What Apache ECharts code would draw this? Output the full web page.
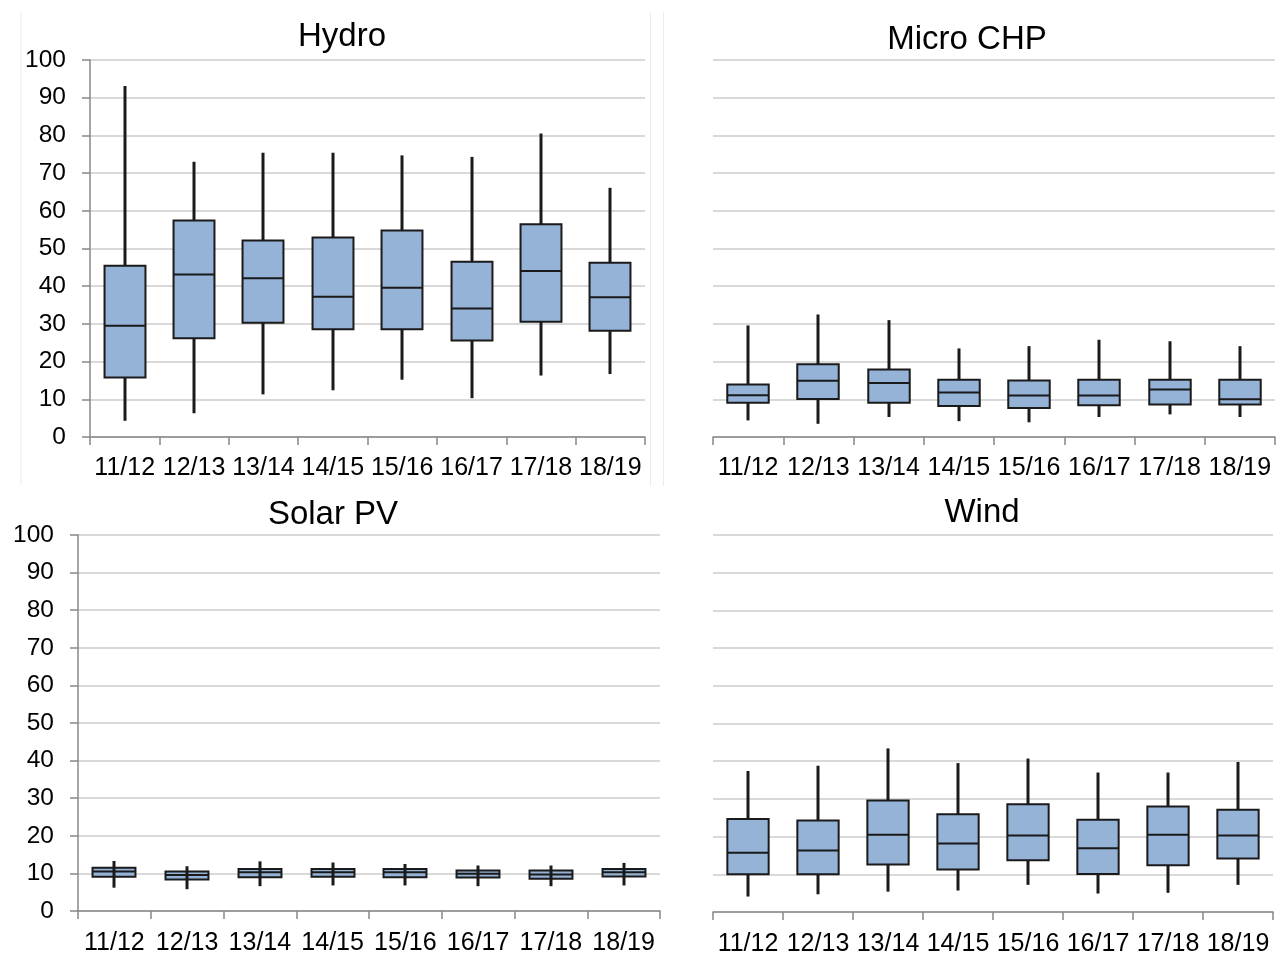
<!DOCTYPE html>
<html>
<head>
<meta charset="utf-8">
<script src="https://cdn.jsdelivr.net/npm/echarts@6/dist/echarts.min.js"></script>
<style>html,body{margin:0;padding:0;background:#fff}#c{width:1284px;height:958px}</style>
</head>
<body>
<div id="c"></div>
<script>
// categories and tick labels
const categories = ['11/12','12/13','13/14','14/15','15/16','16/17','17/18','18/19'];
const yTicks = [0,10,20,30,40,50,60,70,80,90,100];
const panelTitles = ['Hydro','Micro CHP','Solar PV','Wind'];

// each row: [min, Q1, median, Q3, max]
const hydro = [
  [4.3,15.8,29.5,45.4,93.1],
  [6.3,26.2,43.1,57.4,73.0],
  [11.3,30.3,42.1,52.1,75.4],
  [12.4,28.6,37.2,52.9,75.4],
  [15.2,28.6,39.6,54.8,74.7],
  [10.3,25.6,34.1,46.5,74.3],
  [16.3,30.6,44.0,56.4,80.5],
  [16.7,28.2,37.1,46.2,66.1]
];
const microChp = [
  [4.4,9.1,11.1,13.9,29.6],
  [3.5,10.1,14.9,19.3,32.5],
  [5.3,9.1,14.3,17.9,31.0],
  [4.2,8.2,11.8,15.2,23.5],
  [3.9,7.7,11.0,15.0,24.1],
  [5.3,8.4,11.0,15.2,25.8],
  [6.0,8.6,12.6,15.2,25.4],
  [5.3,8.6,10.0,15.2,24.1]
];
const solarPv = [
  [6.2,9.1,10.5,11.5,13.3],
  [5.8,8.4,9.6,10.5,11.9],
  [6.6,9.0,10.3,11.2,13.2],
  [6.8,9.1,10.3,11.2,12.9],
  [6.8,9.0,10.3,11.2,12.5],
  [6.6,8.9,9.9,10.8,12.1],
  [6.6,8.6,9.7,10.8,12.1],
  [6.8,9.2,10.3,11.2,12.8]
];
const wind = [
  [4.1,10.0,15.7,24.7,37.4],
  [4.7,10.0,16.3,24.3,38.8],
  [5.4,12.6,20.5,29.6,43.4],
  [5.7,11.3,18.2,25.9,39.5],
  [7.2,13.7,20.3,28.6,40.7],
  [4.9,10.1,16.9,24.5,37.0],
  [5.1,12.4,20.5,28.0,37.0],
  [7.2,14.2,20.3,27.1,39.8]
];

const panelData = [hydro, microChp, solarPv, wind];

const FONT = 'Liberation Sans, Arial, sans-serif';
const grids = [
  {left:90, top:60, width:555, height:377},
  {left:713, top:60, width:562, height:377},
  {left:78, top:535, width:582, height:376},
  {left:713, top:535, width:560, height:377}
];
const showY = [true,false,true,false];
const titlePos = [[342,20],[967,23],[333,498],[982,496]];
const whiskerOnTop = [false,false,true,false];

function makeRender(onTop){
  return function(params, api){
    const i = api.value(0);
    const pMin = api.coord([i, api.value(1)]);
    const pQ1 = api.coord([i, api.value(2)]);
    const pMed = api.coord([i, api.value(3)]);
    const pQ3 = api.coord([i, api.value(4)]);
    const pMax = api.coord([i, api.value(5)]);
    const w = api.size([1,0])[0]*0.59;
    const cx = Math.round(pMed[0]);
    const lineStyle = {stroke:'#1a1a1a', lineWidth:3};
    const whiskers = onTop ? [
      {type:'line', shape:{x1:cx,y1:pMin[1],x2:cx,y2:pMax[1]}, style:lineStyle, z2:3}
    ] : [
      {type:'line', shape:{x1:cx,y1:pMin[1],x2:cx,y2:pQ1[1]}, style:lineStyle},
      {type:'line', shape:{x1:cx,y1:pQ3[1],x2:cx,y2:pMax[1]}, style:lineStyle}
    ];
    return {type:'group', children: [
      ...whiskers,
      {type:'rect', shape:{x:cx-w/2, y:pQ3[1], width:w, height:pQ1[1]-pQ3[1]},
        style:{fill:'#95b3d7', stroke:'#1a1a1a', lineWidth:2}, z2:1},
      {type:'line', shape:{x1:cx-w/2,y1:pMed[1],x2:cx+w/2,y2:pMed[1]},
        style:{stroke:'#1a1a1a', lineWidth:2}, z2:2}
    ]};
  };
}

const option = {
  animation:false,
  backgroundColor:'#fff',
  title: panelTitles.map((t,k)=>({
    text:t, left:titlePos[k][0], top:titlePos[k][1], textAlign:'center', padding:0,
    textStyle:{fontFamily:FONT, fontSize:33, fontWeight:'normal', color:'#000'}
  })),
  grid: grids,
  xAxis: grids.map((g,k)=>({
    type:'category', gridIndex:k, data:categories, boundaryGap:true,
    axisLine:{show:true, lineStyle:{color:'#888', width:1.5}},
    axisTick:{show:true, length:8, lineStyle:{color:'#888', width:1.5}},
    axisLabel:{fontFamily:FONT, fontSize:25, color:'#000', margin: k<2?19:20, interval:0},
    splitLine:{show:false}
  })),
  yAxis: grids.map((g,k)=>({
    type:'value', gridIndex:k, min:0, max:100, interval:10,
    axisLine:{show:showY[k], lineStyle:{color:'#888', width:1.5}},
    axisTick:{show:showY[k], length:8, lineStyle:{color:'#888', width:1.5}},
    axisLabel:{show:showY[k], fontFamily:FONT, fontSize:24.5, color:'#000', margin:24},
    splitLine:{show:true, lineStyle:{color:'#d9d9d9', width:2}}
  })),
  series: panelData.map((rows,k)=>({
    type:'custom', xAxisIndex:k, yAxisIndex:k,
    renderItem: makeRender(whiskerOnTop[k]),
    encode:{x:0, y:[1,2,3,4,5]},
    data: rows.map((r,i)=>[i, ...r]),
    z:5
  })),
  graphic: [
    {type:'line', shape:{x1:21,y1:12,x2:21,y2:485}, style:{stroke:'#ebebeb', lineWidth:1}, silent:true},
    {type:'line', shape:{x1:650.5,y1:12,x2:650.5,y2:486}, style:{stroke:'#ebebeb', lineWidth:1}, silent:true},
    {type:'line', shape:{x1:663.5,y1:12,x2:663.5,y2:486}, style:{stroke:'#ebebeb', lineWidth:1}, silent:true}
  ]
};

const chart = echarts.init(document.getElementById('c'), null, {renderer:'canvas'});
chart.setOption(option);
</script>
</body>
</html>
